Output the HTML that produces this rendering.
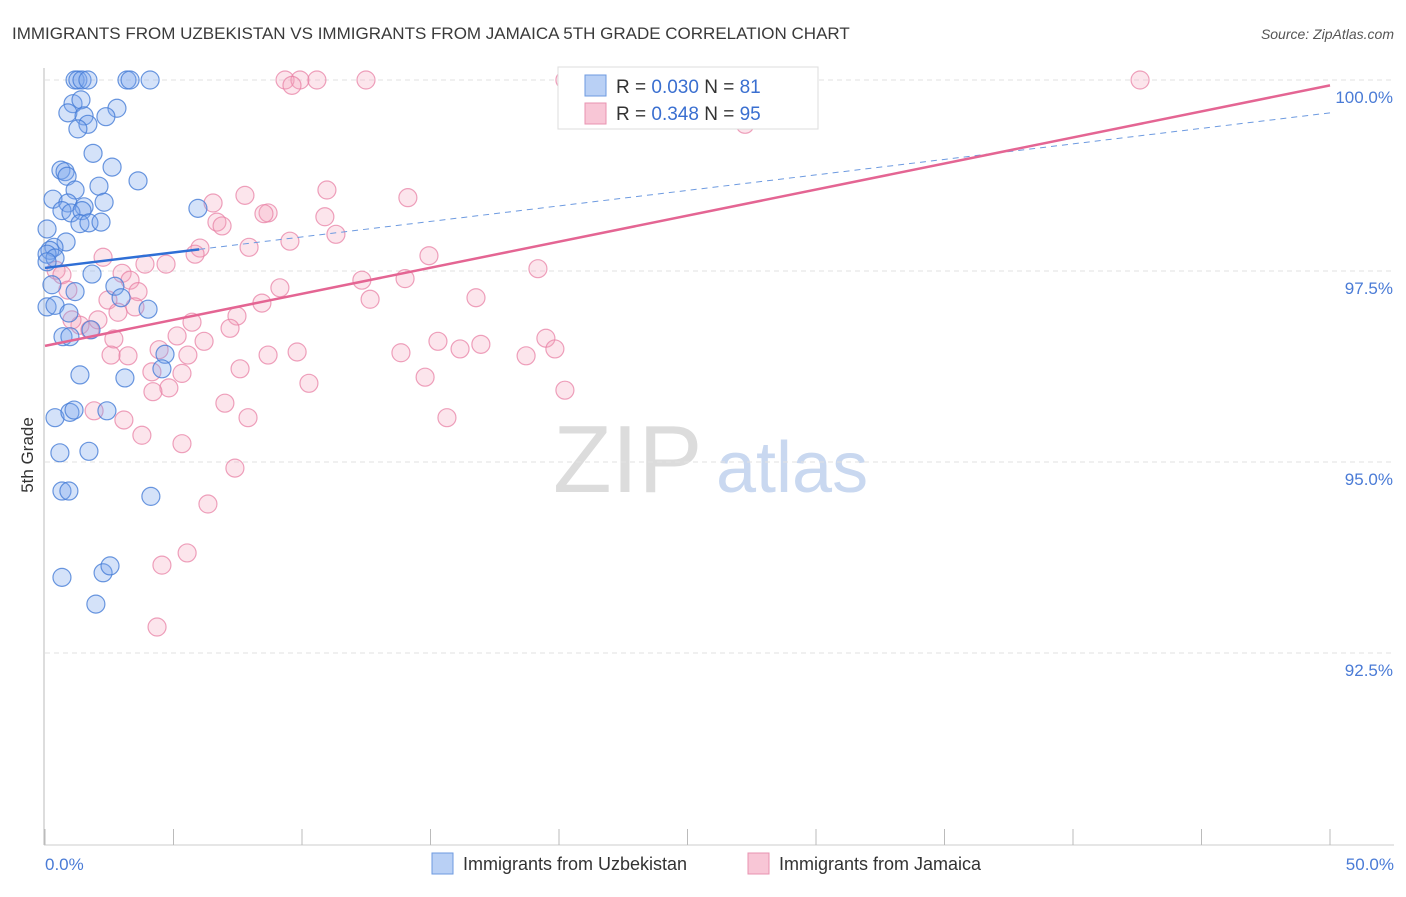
<!DOCTYPE html>
<html><head><meta charset="utf-8"><style>
body{margin:0;background:#fff;font-family:"Liberation Sans",sans-serif;}
svg text{font-family:"Liberation Sans",sans-serif;}
</style></head><body>
<svg id="chart" width="1406" height="892" xmlns="http://www.w3.org/2000/svg">
<text x="12" y="39" font-size="17" fill="#3a3a3a">IMMIGRANTS FROM UZBEKISTAN VS IMMIGRANTS FROM JAMAICA 5TH GRADE CORRELATION CHART</text>
<text x="1394" y="39" font-size="14" fill="#555" font-style="italic" text-anchor="end">Source: ZipAtlas.com</text>
<g>
<text x="553" y="492" font-size="96" fill="#dcdcdc" font-family="Liberation Serif,serif">ZIP</text>
<text x="716" y="492" font-size="72" fill="#c9d8f0">atlas</text>
</g>
<g id="grid"></g>
<g id="axes"></g>
<g id="pts"></g>
<g id="trends"></g>
<text transform="translate(33,455) rotate(-90)" font-size="17" fill="#333" text-anchor="middle">5th Grade</text>
<g>
<rect x="558" y="67" width="260" height="62" fill="#fff" stroke="#ddd"/>
<rect x="585" y="75" width="21" height="21" fill="#b9d0f5" stroke="#6d9ae0"/>
<text x="616" y="93" font-size="19" fill="#333">R = <tspan fill="#3a6fd0">0.030</tspan>   N = <tspan fill="#3a6fd0"> 81</tspan></text>
<rect x="585" y="103" width="21" height="21" fill="#f8c6d6" stroke="#e893b0"/>
<text x="616" y="120" font-size="19" fill="#333">R =  <tspan fill="#3a6fd0">0.348</tspan>   N = <tspan fill="#3a6fd0">95</tspan></text>
</g>
<g>
<rect x="432" y="853" width="21" height="21" fill="#b9d0f5" stroke="#6d9ae0"/>
<text x="463" y="870" font-size="18" fill="#333">Immigrants from Uzbekistan</text>
<rect x="748" y="853" width="21" height="21" fill="#f8c6d6" stroke="#e893b0"/>
<text x="779" y="870" font-size="18" fill="#333">Immigrants from Jamaica</text>
</g>
</svg>
<script>
const xTicks=[0,5,10,15,20,25,30,35,40,45,50];
const yTicks=[92.5,95,97.5,100];
const yTickLabels=["92.5%","95.0%","97.5%","100.0%"];
const xEndLabels=["0.0%","50.0%"];
const blueX=[1.17,1.28,1.44,1.67,3.19,3.31,4.09,1.09,1.40,0.89,1.52,1.67,1.28,2.80,2.37,1.87,2.61,0.62,0.78,0.86,3.62,1.17,2.10,0.31,0.89,1.52,0.66,1.01,1.44,2.30,1.36,1.71,2.18,5.95,0.08,0.82,0.35,0.19,0.08,0.39,0.08,1.83,0.27,2.72,1.17,2.96,4.01,0.08,0.39,0.93,0.70,0.97,1.79,4.67,1.36,3.11,4.55,0.39,0.97,1.13,2.41,0.58,1.71,0.66,0.93,4.12,0.66,2.26,2.53,1.98];
const blueY=[100,100,100,100,100,100,100,99.69,99.74,99.57,99.53,99.42,99.36,99.63,99.52,99.04,98.86,98.82,98.80,98.74,98.68,98.56,98.61,98.44,98.39,98.34,98.29,98.26,98.29,98.40,98.12,98.13,98.14,98.32,98.05,97.88,97.81,97.77,97.72,97.67,97.62,97.46,97.32,97.30,97.23,97.15,97.00,97.03,97.05,96.95,96.64,96.64,96.73,96.41,96.14,96.10,96.22,95.58,95.65,95.68,95.67,95.12,95.14,94.62,94.62,94.55,93.49,93.55,93.64,93.14];
const pinkX=[9.34,9.92,10.58,12.49,9.61,20.23,25.76,42.61,27.24,7.78,6.54,10.97,14.12,8.68,8.52,6.69,6.89,10.89,11.32,6.03,5.84,7.94,9.53,14.94,2.26,0.43,0.66,3.89,4.71,3.00,3.31,19.18,12.33,14.01,9.14,0.89,3.62,2.45,8.44,12.65,16.77,3.50,2.84,7.47,7.20,5.72,1.36,1.75,2.06,1.05,5.14,2.68,6.19,15.29,16.96,16.15,19.49,19.84,4.44,5.56,2.57,3.23,8.68,9.81,13.85,18.72,4.16,7.59,5.33,4.82,4.20,14.79,10.27,20.23,7.00,1.91,3.07,7.90,15.64,3.77,5.33,7.39,6.34,5.53,4.55,4.36];
const pinkY=[100,100,100,100,99.93,100,100,100,99.42,98.49,98.39,98.56,98.46,98.26,98.25,98.14,98.09,98.21,97.98,97.80,97.72,97.81,97.89,97.70,97.68,97.51,97.45,97.59,97.59,97.47,97.38,97.53,97.38,97.40,97.28,97.25,97.23,97.12,97.08,97.13,97.15,97.03,96.96,96.91,96.75,96.83,96.79,96.73,96.86,96.86,96.65,96.61,96.58,96.58,96.54,96.48,96.62,96.48,96.47,96.40,96.40,96.39,96.40,96.44,96.43,96.39,96.18,96.22,96.16,95.97,95.92,96.11,96.03,95.94,95.77,95.67,95.55,95.58,95.58,95.35,95.24,94.92,94.45,93.81,93.65,92.84];
const blueTrend=[97.54,99.57];
const pinkTrend=[96.52,99.93];
const NS="http://www.w3.org/2000/svg";
function sx(v){return 45+v*25.7;}
function sy(v){return 80+(100-v)*76.4;}
function mk(tag,attrs,parent){const e=document.createElementNS(NS,tag);for(const k in attrs)e.setAttribute(k,attrs[k]);parent.appendChild(e);return e;}
const grid=document.getElementById('grid'),axes=document.getElementById('axes'),pts=document.getElementById('pts'),tr=document.getElementById('trends');
yTicks.forEach((t,i)=>{
 const l=mk('line',{x1:45,x2:1394,y1:sy(t),y2:sy(t),stroke:'#e2e2e2','stroke-dasharray':'5,4'},grid);
 
 
 const tx=mk('text',{x:1393,y:sy(t)+23,'font-size':17,fill:'#4a7bd6','text-anchor':'end'},axes);
 tx.textContent=yTickLabels[i];
 
 
});
const ax=mk('line',{x1:44,x2:44,y1:68,y2:845,stroke:'#bbb'},axes);


const bx=mk('line',{x1:44,x2:1394,y1:845,y2:845,stroke:'#ccc'},axes);


xTicks.forEach(t=>{
 const l=mk('line',{x1:sx(t),x2:sx(t),y1:829,y2:845,stroke:'#bbb'},axes);
 
 
});
[[0,'start'],[50,'end']].forEach((p,i)=>{
 const tx=mk('text',{x:i?1394:45,y:870,'font-size':17,fill:'#4a7bd6','text-anchor':p[1]},axes);
 tx.textContent=xEndLabels[i];
 
 
});
function dots(X,Y,fill,stroke,name){X.forEach((x,i)=>{
 const c=mk('circle',{cx:sx(x),cy:sy(Y[i]),r:9,fill:fill,stroke:stroke,'stroke-width':1.2},pts);
 
 
});}
dots(pinkX,pinkY,'rgba(244,160,188,0.28)','rgba(232,130,165,0.75)','jamaica-point');
dots(blueX,blueY,'rgba(120,165,235,0.32)','rgba(70,125,215,0.8)','uzbekistan-point');
const b1=mk('line',{x1:sx(0),y1:sy(blueTrend[0]),x2:sx(6),y2:sy(blueTrend[0]+(blueTrend[1]-blueTrend[0])*6/50),stroke:'#2f6fd6','stroke-width':2.5},tr);


const b2=mk('line',{x1:sx(6),y1:sy(blueTrend[0]+(blueTrend[1]-blueTrend[0])*6/50),x2:sx(50),y2:sy(blueTrend[1]),stroke:'#6d9ae0','stroke-width':1,'stroke-dasharray':'6,5'},tr);


const p1=mk('line',{x1:sx(0),y1:sy(pinkTrend[0]),x2:sx(50),y2:sy(pinkTrend[1]),stroke:'#e46593','stroke-width':2.5},tr);


</script>
</body></html>
